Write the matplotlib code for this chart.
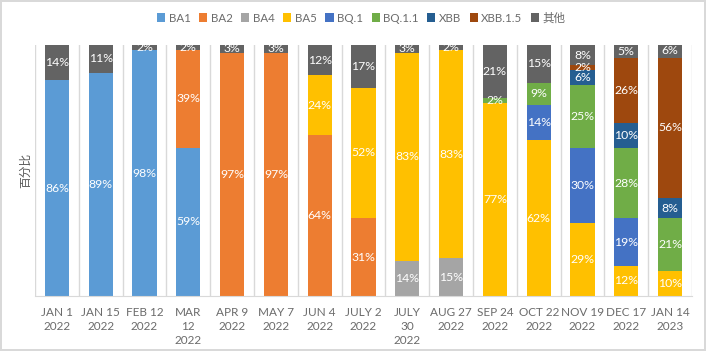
import matplotlib
matplotlib.use("Agg")
import matplotlib.pyplot as plt
import numpy as np

plt.rcParams['font.family'] = ['Lato', 'Noto Sans CJK SC', 'DejaVu Sans']

dates = ['JAN 1\n2022', 'JAN 15\n2022', 'FEB 12\n2022', 'MAR\n12\n2022', 'APR 9\n2022',
         'MAY 7\n2022', 'JUN 4\n2022', 'JULY 2\n2022', 'JULY\n30\n2022', 'AUG 27\n2022',
         'SEP 24\n2022', 'OCT 22\n2022', 'NOV 19\n2022', 'DEC 17\n2022', 'JAN 14\n2023']

variants = ['BA1', 'BA2', 'BA4', 'BA5', 'BQ.1', 'BQ.1.1', 'XBB', 'XBB.1.5', '其他']

ba1    = [86, 89, 98, 59, 0, 0, 0, 0, 0, 0, 0, 0, 0, 0, 0]
ba2    = [0, 0, 0, 39, 97, 97, 64, 31, 0, 0, 0, 0, 0, 0, 0]
ba4    = [0, 0, 0, 0, 0, 0, 0, 0, 14, 15, 0, 0, 0, 0, 0]
ba5    = [0, 0, 0, 0, 0, 0, 24, 52, 83, 83, 77, 62, 29, 12, 10]
bq1    = [0, 0, 0, 0, 0, 0, 0, 0, 0, 0, 0, 14, 30, 19, 0]
bq11   = [0, 0, 0, 0, 0, 0, 0, 0, 0, 0, 2, 9, 25, 28, 21]
xbb    = [0, 0, 0, 0, 0, 0, 0, 0, 0, 0, 0, 0, 6, 10, 8]
xbb15  = [0, 0, 0, 0, 0, 0, 0, 0, 0, 0, 0, 0, 2, 26, 56]
other  = [14, 11, 2, 2, 3, 3, 12, 17, 3, 2, 21, 15, 8, 5, 6]

series = [ba1, ba2, ba4, ba5, bq1, bq11, xbb, xbb15, other]
colors = ['#5B9BD5', '#ED7D31', '#A5A5A5', '#FFC000', '#4472C4',
          '#70AD47', '#255E91', '#9E480E', '#636363']

fig = plt.figure(figsize=(7.06, 3.51), dpi=100)
fig.patch.set_edgecolor('#D9D9D9')
fig.patch.set_linewidth(1.5)
ax = fig.add_axes([35 / 706, 55 / 351, (692 - 35) / 706, (296 - 45) / 351])

x = np.arange(len(dates))
bottom = np.zeros(len(dates))
for name, vals, c in zip(variants, series, colors):
    vals = np.array(vals, dtype=float)
    ax.bar(x, vals, width=0.55, bottom=bottom, color=c, label=name, zorder=2)
    for xi, v, b in zip(x, vals, bottom):
        if v > 0:
            ax.text(xi, b + v / 2, f'{int(v)}%', ha='center', va='center',
                    color='white', fontsize=8.8, zorder=3)
    bottom += vals

ax.set_xlim(-0.5, len(dates) - 0.5)
ax.set_ylim(0, 100)
ax.set_yticks([])
ax.set_xticks(x)
ax.set_xticklabels(dates, fontsize=8.5, color='#6B6B6B', linespacing=1.3)
ax.tick_params(axis='x', length=0, pad=8)
for b in np.arange(-0.5, len(dates), 1.0):
    ax.axvline(b, color='#D9D9D9', lw=1, zorder=1)
for s in ['top', 'right', 'left']:
    ax.spines[s].set_visible(False)
ax.spines['bottom'].set_color('#D9D9D9')
ax.set_ylabel('百分比', fontsize=8.5, color='#595959', labelpad=3)

handles, labels = ax.get_legend_handles_labels()
fig.legend(handles, labels, loc='center', bbox_to_anchor=(0.512, 0.949), ncol=9,
           frameon=False, fontsize=8.3, handlelength=0.7, handleheight=0.7,
           handletextpad=0.3, columnspacing=0.75, labelcolor='#6B6B6B')

fig.savefig('out.png', dpi=100)
